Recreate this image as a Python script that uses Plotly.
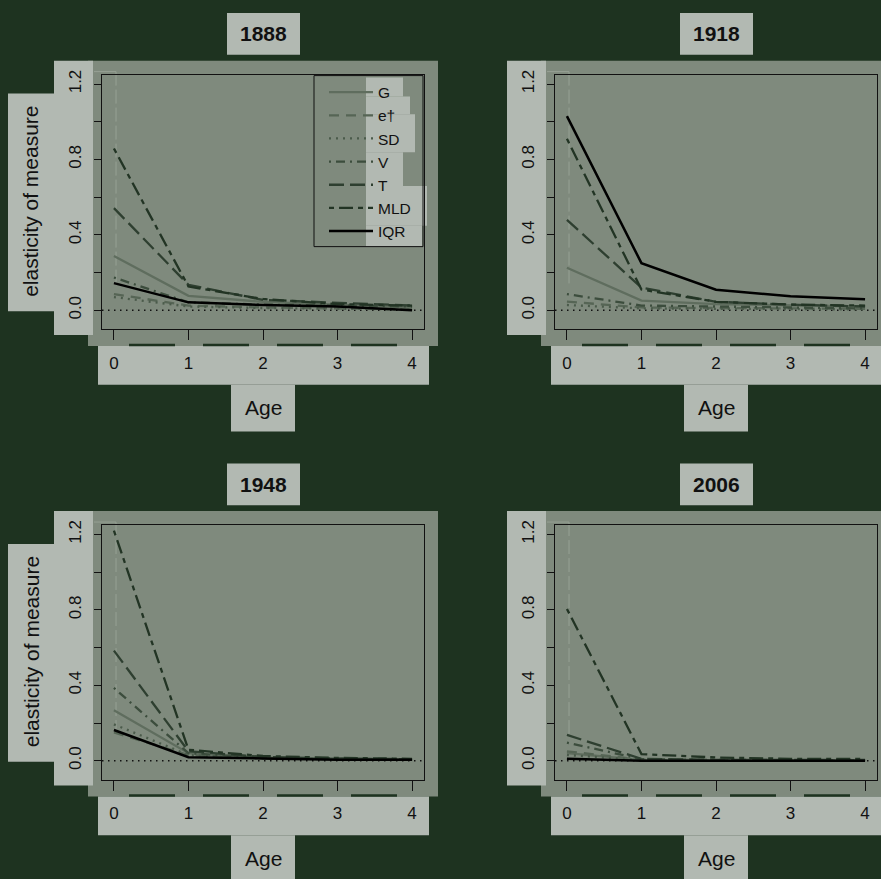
import plotly.graph_objects as go

# ---------------------------------------------------------------- data
ages = [0, 1, 2, 3, 4]
measures = ["G", "e†", "SD", "V", "T", "MLD", "IQR"]
years = ["1888", "1918", "1948", "2006"]

elas_1888 = {
    "G":   [0.288, 0.077, 0.045, 0.030, 0.015],
    "e†":  [0.086, 0.025, 0.015, 0.010, 0.005],
    "SD":  [0.070, 0.020, 0.012, 0.008, 0.005],
    "V":   [0.174, 0.042, 0.030, 0.025, 0.020],
    "T":   [0.542, 0.135, 0.055, 0.040, 0.025],
    "MLD": [0.858, 0.126, 0.060, 0.033, 0.025],
    "IQR": [0.144, 0.042, 0.028, 0.020, 0.000],
}
elas_1918 = {
    "G":   [0.226, 0.051, 0.033, 0.025, 0.020],
    "e†":  [0.046, 0.015, 0.012, 0.010, 0.008],
    "SD":  [0.028, 0.010, 0.008, 0.006, 0.005],
    "V":   [0.086, 0.025, 0.020, 0.015, 0.010],
    "T":   [0.480, 0.120, 0.045, 0.030, 0.020],
    "MLD": [0.910, 0.110, 0.045, 0.030, 0.025],
    "IQR": [1.030, 0.250, 0.109, 0.074, 0.058],
}
elas_1948 = {
    "G":   [0.268, 0.040, 0.015, 0.010, 0.005],
    "e†":  [0.150, 0.030, 0.012, 0.008, 0.005],
    "SD":  [0.193, 0.030, 0.012, 0.008, 0.005],
    "V":   [0.386, 0.040, 0.015, 0.010, 0.005],
    "T":   [0.584, 0.050, 0.020, 0.012, 0.008],
    "MLD": [1.220, 0.058, 0.025, 0.015, 0.010],
    "IQR": [0.163, 0.019, 0.012, 0.005, 0.005],
}
elas_2006 = {
    "G":   [0.040, 0.005, 0.003, 0.002, 0.002],
    "e†":  [0.050, 0.006, 0.003, 0.002, 0.002],
    "SD":  [0.030, 0.004, 0.002, 0.002, 0.002],
    "V":   [0.096, 0.008, 0.004, 0.003, 0.003],
    "T":   [0.137, 0.010, 0.005, 0.004, 0.004],
    "MLD": [0.805, 0.035, 0.017, 0.010, 0.010],
    "IQR": [0.010, 0.000, 0.000, 0.000, 0.000],
}
panel_data = [elas_1888, elas_1918, elas_1948, elas_2006]

y_tickvals = [0.0, 0.2, 0.4, 0.6, 0.8, 1.0, 1.2]
y_ticktext = ["0.0", "", "0.4", "", "0.8", "", "1.2"]

# --------------------------------------------------------------- style
W, H = 881, 879
BG = "#1e3320"
PANEL = "#7f8a7d"
LIGHT = "#b2b9b2"
INK = "#111111"
FONT = "Liberation Sans, Arial, Helvetica, sans-serif"

line_color = {"G": "#5f6d5e", "e†": "#566555", "SD": "#4b5b4b", "V": "#3c4d3d",
              "T": "#2e3f30", "MLD": "#223424", "IQR": "#000000"}
line_dash = {"G": "solid", "e†": "10px,7px", "SD": "2px,5px", "V": "2px,5px,9px,5px",
             "T": "15px,6px", "MLD": "5px,5px,14px,5px", "IQR": "solid"}
line_width = {"G": 2.3, "e†": 2.3, "SD": 2.3, "V": 2.3, "T": 2.3, "MLD": 2.3, "IQR": 2.5}


def fx(px):
    return px / W


def fy(py):
    return 1 - py / H


shapes = []
annotations = []


def rect(x0, y0, x1, y1, color, outline=None):
    x1 = min(x1, W)
    y1 = min(y1, H)
    shapes.append(dict(type="rect", xref="paper", yref="paper",
                       x0=fx(x0), x1=fx(x1), y0=fy(y1), y1=fy(y0),
                       fillcolor=color,
                       line=dict(width=1, color=outline) if outline else dict(width=0),
                       layer="below"))


def seg(x0, y0, x1, y1, color, width, dash="solid"):
    shapes.append(dict(type="line", xref="paper", yref="paper",
                       x0=fx(x0), x1=fx(min(x1, W)), y0=fy(y0), y1=fy(y1),
                       line=dict(color=color, width=width, dash=dash), layer="below"))


fig = go.Figure()

# panel offsets in pixels (left/right column, top/bottom row)
offsets = [(0, 0), (453, 0), (0, 453), (453, 453)]

for i, (year, data, (dx, dy)) in enumerate(zip(years, panel_data, offsets)):
    n = "" if i == 0 else str(i + 1)
    xa, ya = "x" + n, "y" + n

    # background blocks
    rect(88 + dx, 56 + dy, 438 + dx, 343 + dy, PANEL)
    rect(54 + dx, 56 + dy, 93 + dx, 332 + dy, LIGHT)           # y tick labels
    rect(98 + dx, 343 + dy, 429 + dx, 382 + dy, LIGHT)         # x tick labels
    rect(231 + dx, 382 + dy, 295 + dx, 429 + dy, LIGHT)        # "Age"
    rect(227 + dx, 8 + dy, 300 + dx, 50 + dy, LIGHT)           # year title
    if dx == 0:
        rect(8, 89 + dy, 54, 308 + dy, LIGHT)                  # y axis title
    # dashed break under the x ticks
    seg(129 + dx, 342 + dy, 400 + dx, 342 + dy, BG, 2.6, "46px,28px")
    # faint guide near age 0
    seg(94 + dx, 67 + dy, 116 + dx, 67 + dy, "#97a195", 1)
    seg(116 + dx, 67 + dy, 116 + dx, 280 + dy, "#97a195", 1, "14px,4px")

    # reference line at zero
    shapes.append(dict(type="line", xref=xa + " domain", yref=ya, x0=0, x1=1, y0=0, y1=0,
                       line=dict(color=INK, width=1.4, dash="1.5px,4.5px"), layer="below"))

    for m in measures:
        fig.add_trace(go.Scatter(
            x=ages, y=data[m], mode="lines", name=m,
            line=dict(color=line_color[m], dash=line_dash[m], width=line_width[m]),
            showlegend=(i == 0), xaxis=xa, yaxis=ya, hoverinfo="skip"))

    fig.layout["xaxis" + n] = dict(
        domain=[fx(102 + dx), fx(424 + dx)], anchor=ya, range=[-0.16, 4.16],
        tickvals=ages, ticks="outside", ticklen=10, tickcolor=INK, tickwidth=1,
        showline=True, mirror=True, linecolor=INK, linewidth=1,
        showgrid=False, zeroline=False, fixedrange=True,
        tickfont=dict(size=17, color=INK, family=FONT), ticklabelstandoff=8)
    fig.layout["yaxis" + n] = dict(
        domain=[fy(326 + dy), fy(70 + dy)], anchor=xa, range=[-0.1, 1.25],
        tickvals=y_tickvals, ticktext=y_ticktext, tickangle=-90,
        ticks="outside", ticklen=7, tickcolor=INK, tickwidth=1,
        showline=True, mirror=True, linecolor=INK, linewidth=1,
        showgrid=False, zeroline=False, fixedrange=True,
        tickfont=dict(size=17, color=INK, family=FONT), ticklabelstandoff=6)

    annotations.append(dict(text="<b>" + year + "</b>", xref="paper", yref="paper",
                            x=fx(263.5 + dx), y=fy(29 + dy), showarrow=False,
                            xanchor="center", yanchor="middle",
                            font=dict(size=21, color=INK, family=FONT)))
    annotations.append(dict(text="Age", xref="paper", yref="paper",
                            x=fx(263 + dx), y=fy(405 + dy), showarrow=False,
                            xanchor="center", yanchor="middle",
                            font=dict(size=21, color=INK, family=FONT)))
    if dx == 0:
        annotations.append(dict(text="elasticity of measure", xref="paper", yref="paper",
                                x=fx(31), y=fy(198 + dy), showarrow=False, textangle=-90,
                                xanchor="center", yanchor="middle",
                                font=dict(size=21, color=INK, family=FONT)))

# light patches behind the legend labels, then the legend frame
for (y0, y1, x1) in [(73, 92, 403), (92, 110, 410), (110, 148, 415), (148, 182, 403),
                     (182, 222, 427), (222, 243, 422)]:
    rect(366, y0, x1, y1, LIGHT)
rect(314, 71, 423, 243, "rgba(0,0,0,0)", outline=INK)

fig.update_layout(
    width=W, height=H, margin=dict(l=0, r=0, t=0, b=0),
    paper_bgcolor=BG, plot_bgcolor=PANEL,
    font=dict(family=FONT, color=INK),
    shapes=shapes, annotations=annotations,
    legend=dict(x=fx(324), y=fy(71), xanchor="left", yanchor="top",
                bgcolor="rgba(0,0,0,0)", borderwidth=0,
                font=dict(size=15.5, color=INK, family=FONT),
                itemwidth=44, tracegroupgap=0),
)

fig.write_html("out.html")
